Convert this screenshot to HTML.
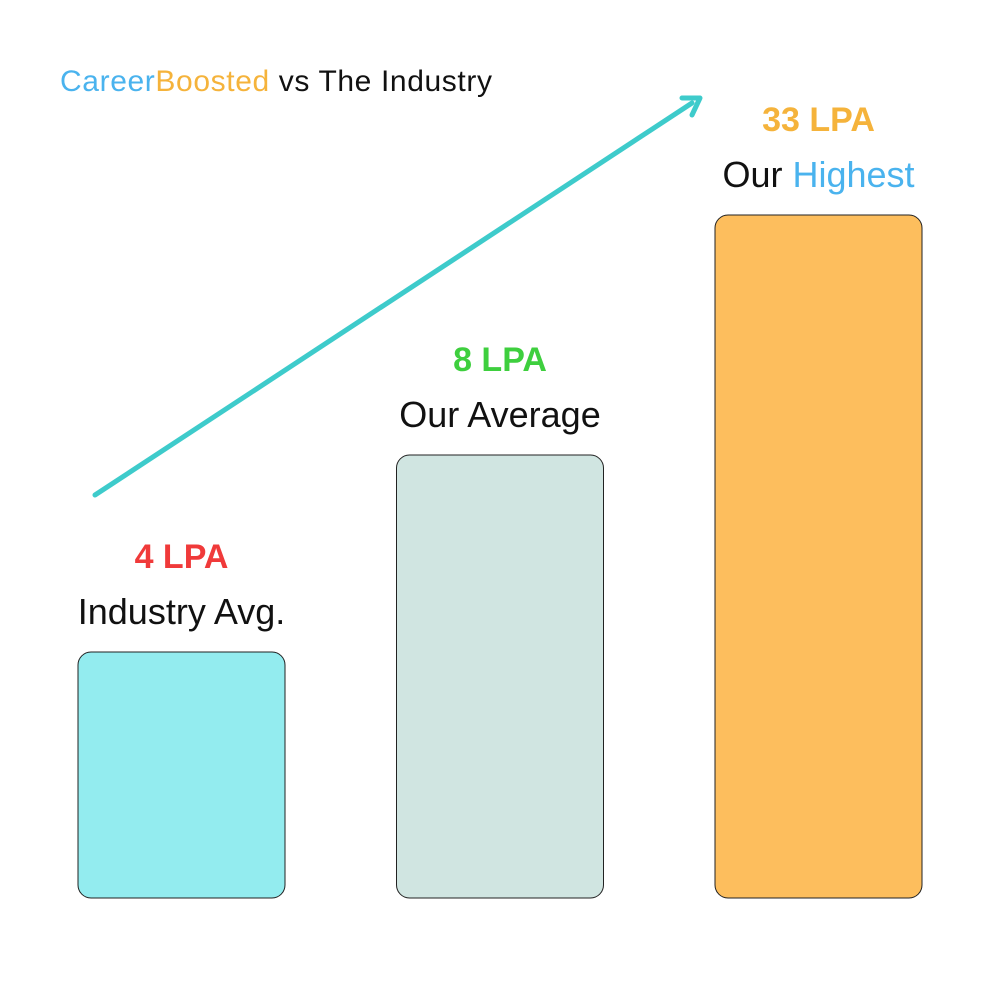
<!DOCTYPE html>
<html><head><meta charset="utf-8"><style>
body{margin:0;background:#fff;}
svg{display:block;font-family:"Liberation Sans",sans-serif;}
</style></head><body>
<svg id="chart" width="1000" height="1000" viewBox="0 0 1000 1000">
<rect width="1000" height="1000" fill="#fff"/>
<text x="60" y="91" font-size="30" textLength="432"><tspan fill="#4AB3EE">Career</tspan><tspan fill="#F5B33B">Boosted</tspan><tspan fill="#111"> vs The Industry</tspan></text>
<g id="arrow">
<line x1="95" y1="495" x2="692" y2="103" stroke="#3ECBCB" stroke-width="5" stroke-linecap="round"/>
<polyline points="682,98 700,98 692,115" fill="none" stroke="#3ECBCB" stroke-width="5" stroke-linecap="round" stroke-linejoin="round"/>
</g>
<g id="bars"></g>
</svg>
<script>
const categories = ["Industry Avg.", "Our Average", "Our Highest"];
const values = [4, 8, 33];
const valueLabels = ["4 LPA", "8 LPA", "33 LPA"];
const NS = "http://www.w3.org/2000/svg";
const baseY = 898;
// piecewise axis scale (infographic, non-linear)
function yScale(v){
  const d=[0,4,8,33], r=[0,246,443,683];
  for(let i=1;i<d.length;i++){ if(v<=d[i]||i===d.length-1){ const t=(v-d[i-1])/(d[i]-d[i-1]); return baseY-(r[i-1]+t*(r[i]-r[i-1])); } }
}
function xScale(i){ return 78 + i*318.5; }
const barW = 207;
const fills = ["#93ECEF","#D0E5E1","#FDBE5D"];
const valColors = ["#F03A3A","#3ECF3E","#F5B33B"];
const g = document.getElementById("bars");
values.forEach((v,i)=>{
  const top=yScale(v), x=xScale(i), cx=x+barW/2;
  const r=document.createElementNS(NS,"rect");
  r.setAttribute("x",x); r.setAttribute("y",top); r.setAttribute("width",barW); r.setAttribute("height",baseY-top);
  r.setAttribute("rx",13); r.setAttribute("fill",fills[i]); r.setAttribute("stroke","#222"); r.setAttribute("stroke-width","1");
  
  
  g.appendChild(r);
  const t1=document.createElementNS(NS,"text");
  t1.setAttribute("x",cx); t1.setAttribute("y",top-84); t1.setAttribute("text-anchor","middle");
  t1.setAttribute("font-size","34"); t1.setAttribute("font-weight","bold"); t1.setAttribute("fill",valColors[i]);
  t1.textContent=valueLabels[i];
  
  
  g.appendChild(t1);
  const t2=document.createElementNS(NS,"text");
  t2.setAttribute("x",cx); t2.setAttribute("y",top-28); t2.setAttribute("text-anchor","middle");
  t2.setAttribute("font-size","36"); t2.setAttribute("fill","#111");
  if(categories[i]==="Our Highest"){
    t2.innerHTML='Our <tspan fill="#4AB3EE">Highest</tspan>';
  } else t2.textContent=categories[i];
  
  
  g.appendChild(t2);
});
</script>
</body></html>
